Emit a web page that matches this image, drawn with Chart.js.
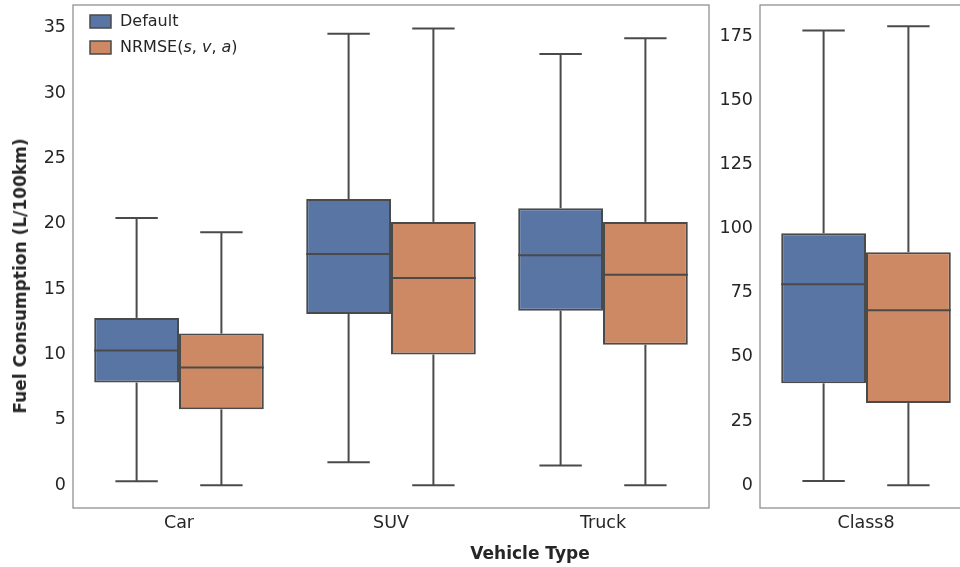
<!DOCTYPE html>
<html>
<head>
<meta charset="utf-8">
<script src="https://cdn.jsdelivr.net/npm/chart.js@4"></script>
<style>
    html, body { margin: 0; padding: 0; background: #fff; }
    body { width: 960px; height: 567px; position: relative; overflow: hidden; font-family: "DejaVu Sans", sans-serif; }
    canvas { position: absolute; top: 0; }
    #leftChart { left: 0; }
    #rightChart { left: 690px; }
    .titolo { position: absolute; font-weight: bold; font-size: 17px; color: #262626; white-space: nowrap; }
    #xTitle { left: 530px; top: 543px; transform: translateX(-50%); }
    #yTitle { left: 20px; top: 276px; transform: translate(-50%, -50%) rotate(-90deg); }
</style>
</head>
<body>
<canvas id="leftChart" width="712" height="567"></canvas>
<canvas id="rightChart" width="290" height="567"></canvas>
<div class="titolo" id="xTitle">Vehicle Type</div>
<div class="titolo" id="yTitle">Fuel Consumption (L/100km)</div>
<script>
// ── Dati ─────────────────────────────────────────────────────
const seriesLabels = ['Default', 'NRMSE(s, v, a)'];
const seriesColors = ['#5875a4', '#cc8963'];

const vehicleTypes = ['Car', 'SUV', 'Truck'];
const defaultMin    = [0.3, 1.75, 1.5];
const defaultQ1     = [7.85, 13.1, 13.35];
const defaultMedian = [10.3, 17.7, 17.6];
const defaultQ3     = [12.8, 21.9, 21.2];
const defaultMax    = [20.45, 34.55, 33.0];
const nrmseMin      = [0, 0, 0];
const nrmseQ1       = [5.8, 10.0, 10.75];
const nrmseMedian   = [9.0, 15.85, 16.1];
const nrmseQ3       = [11.6, 20.15, 20.15];
const nrmseMax      = [19.35, 34.95, 34.2];

const heavyTypes = ['Class8'];
const class8DefaultMin    = [1.6];
const class8DefaultQ1     = [39.7];
const class8DefaultMedian = [78.3];
const class8DefaultQ3     = [98.2];
const class8DefaultMax    = [177.3];
const class8NrmseMin      = [0];
const class8NrmseQ1       = [32.0];
const class8NrmseMedian   = [68.2];
const class8NrmseQ3       = [90.8];
const class8NrmseMax      = [178.9];

const edgeColor = '#4a4a4a';
const tickColor = '#262626';

function creaDataset(i, min, q1, median, q3, max) {
    return {
        label: seriesLabels[i],
        data: q1.map((v, k) => [v, q3[k]]),
        min: min,
        median: median,
        max: max,
        backgroundColor: seriesColors[i],
        borderColor: edgeColor,
        borderWidth: 2,
        borderSkipped: false,
        categoryPercentage: 0.8,
        barPercentage: 1.0
    };
}

function linea(ctx, x1, y1, x2, y2) {
    ctx.beginPath();
    ctx.moveTo(x1, y1);
    ctx.lineTo(x2, y2);
    ctx.stroke();
}

// baffi + mediana sopra le barre fluttuanti
const boxPlugin = {
    id: 'boxWhiskers',
    afterDatasetsDraw(chart) {
        const ctx = chart.ctx;
        const y = chart.scales.y;
        ctx.save();
        ctx.strokeStyle = edgeColor;
        ctx.lineWidth = 2;
        chart.data.datasets.forEach((ds, di) => {
            chart.getDatasetMeta(di).data.forEach((bar, i) => {
                const x = bar.x;
                const half = bar.width / 2;
                const yMed = y.getPixelForValue(ds.median[i]);
                linea(ctx, x - half, yMed, x + half, yMed);
                const yQ3 = y.getPixelForValue(ds.data[i][1]);
                const yMax = y.getPixelForValue(ds.max[i]);
                linea(ctx, x, yQ3, x, yMax);
                linea(ctx, x - half / 2, yMax, x + half / 2, yMax);
                const yQ1 = y.getPixelForValue(ds.data[i][0]);
                const yMin = y.getPixelForValue(ds.min[i]);
                linea(ctx, x, yQ1, x, yMin);
                linea(ctx, x - half / 2, yMin, x + half / 2, yMin);
            });
        });
        ctx.restore();
    }
};

// cornice attorno all'area del grafico
const framePlugin = {
    id: 'frame',
    afterDraw(chart) {
        const a = chart.chartArea;
        const ctx = chart.ctx;
        ctx.save();
        ctx.strokeStyle = '#8c8c8c';
        ctx.lineWidth = 1.25;
        ctx.strokeRect(a.left, a.top, a.right - a.left, a.bottom - a.top);
        ctx.restore();
    }
};

// legenda interna in alto a sinistra (lettere singole in corsivo)
const legendPlugin = {
    id: 'insideLegend',
    afterDraw(chart, args, opts) {
        if (!opts.show) return;
        const ctx = chart.ctx;
        ctx.save();
        chart.data.datasets.forEach((ds, i) => {
            const top = 15 + i * 26;
            ctx.fillStyle = ds.backgroundColor;
            ctx.fillRect(90, top, 21, 13);
            ctx.strokeStyle = edgeColor;
            ctx.lineWidth = 1.5;
            ctx.strokeRect(90, top, 21, 13);
            let x = 120;
            ctx.fillStyle = tickColor;
            ctx.textBaseline = 'middle';
            ds.label.split(/(\b[a-z]\b)/).forEach(part => {
                if (!part) return;
                const corsivo = /^[a-z]$/.test(part);
                ctx.font = (corsivo ? 'oblique ' : '') + '16px "DejaVu Sans"';
                ctx.fillText(part, x, top + 7);
                x += ctx.measureText(part).width;
            });
        });
        ctx.restore();
    }
};

function creaPannello(id, labels, datasets, yMin, yMax, step, yWidth, padRight, showLegend) {
    return new Chart(document.getElementById(id).getContext('2d'), {
        type: 'bar',
        data: { labels: labels, datasets: datasets },
        plugins: [boxPlugin, framePlugin, legendPlugin],
        options: {
            responsive: false,
            animation: false,
            layout: { padding: { top: 5, right: padRight, bottom: 0, left: 0 } },
            plugins: {
                legend: { display: false },
                tooltip: { enabled: false },
                insideLegend: { show: showLegend }
            },
            scales: {
                x: {
                    grid: { display: false, drawTicks: false },
                    border: { display: false },
                    ticks: { color: tickColor, padding: 5, font: { family: 'DejaVu Sans', size: 17.5 } },
                    afterFit: (scale) => {
                        scale.height = 59;
                        scale.paddingLeft = 0;
                        scale.paddingRight = 0;
                    }
                },
                y: {
                    min: yMin,
                    max: yMax,
                    grid: { display: false, drawTicks: false },
                    border: { display: false },
                    ticks: {
                        stepSize: step,
                        includeBounds: false,
                        color: tickColor,
                        padding: 7,
                        font: { family: 'DejaVu Sans', size: 17.5 }
                    },
                    afterFit: (scale) => {
                        scale.width = yWidth;
                        scale.paddingTop = 0;
                        scale.paddingBottom = 0;
                    }
                }
            }
        }
    });
}

creaPannello('leftChart', vehicleTypes, [
    creaDataset(0, defaultMin, defaultQ1, defaultMedian, defaultQ3, defaultMax),
    creaDataset(1, nrmseMin, nrmseQ1, nrmseMedian, nrmseQ3, nrmseMax)
], -1.75, 36.75, 5, 73, 3, true);

creaPannello('rightChart', heavyTypes, [
    creaDataset(0, class8DefaultMin, class8DefaultQ1, class8DefaultMedian, class8DefaultQ3, class8DefaultMax),
    creaDataset(1, class8NrmseMin, class8NrmseQ1, class8NrmseMedian, class8NrmseQ3, class8NrmseMax)
], -8.9, 187.2, 25, 70, 8, false);
</script>
</body>
</html>
